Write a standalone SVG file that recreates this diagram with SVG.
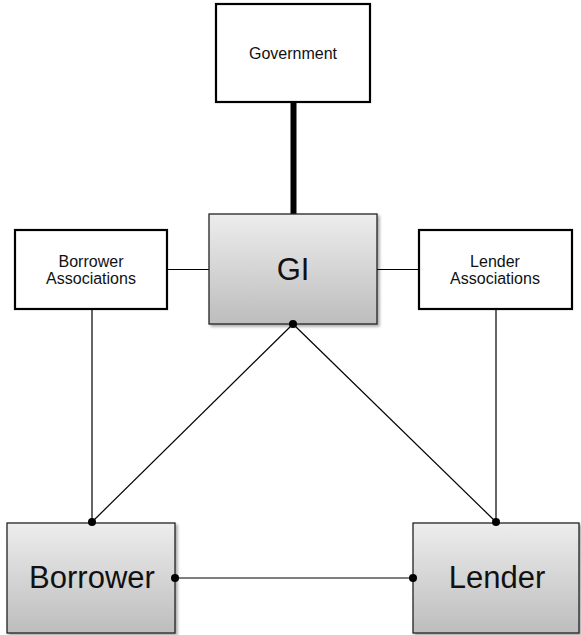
<svg xmlns="http://www.w3.org/2000/svg" width="581" height="635" viewBox="0 0 581 635">
<defs>
<linearGradient id="g" x1="0" y1="0" x2="0" y2="1">
<stop offset="0" stop-color="#ededed"/>
<stop offset="1" stop-color="#bdbdbd"/>
</linearGradient>
<filter id="sh" x="-10%" y="-10%" width="125%" height="125%">
<feGaussianBlur in="SourceAlpha" stdDeviation="1.5"/>
<feOffset dx="2" dy="2" result="b"/>
<feComponentTransfer><feFuncA type="linear" slope="0.35"/></feComponentTransfer>
<feMerge><feMergeNode/><feMergeNode in="SourceGraphic"/></feMerge>
</filter>
</defs>
<style>
.w{fill:#fff;stroke:#000;stroke-width:2.2}
.gr{fill:url(#g);stroke:#222;stroke-width:1.3;filter:url(#sh)}
.t{font-family:"Liberation Sans",Arial,sans-serif;fill:#111;text-anchor:middle}
.s{font-size:16px}
.b{font-size:31px}
.c{stroke:#000;stroke-width:1.2;fill:none}
</style>
<rect width="581" height="635" fill="#fff"/>
<g id="connectors">
<line x1="293.5" y1="102" x2="293.5" y2="214" stroke="#000" stroke-width="6"/>
<line class="c" x1="167" y1="269.5" x2="209" y2="269.5"/>
<line class="c" x1="377" y1="269.5" x2="419" y2="269.5"/>
<line class="c" x1="92" y1="309" x2="92" y2="522"/>
<line class="c" x1="496" y1="309" x2="496" y2="522"/>
<line class="c" x1="293" y1="324" x2="92" y2="522"/>
<line class="c" x1="293" y1="324" x2="496" y2="522"/>
<line class="c" x1="175" y1="578" x2="413" y2="578"/>
</g>
<g id="government">
<rect class="w" x="216" y="4" width="154" height="98"/>
<text class="t s" x="293" y="59">Government</text>
</g>
<g id="borrower-associations">
<rect class="w" x="15" y="230" width="152" height="79"/>
<text class="t s" x="91" y="267">Borrower</text>
<text class="t s" x="91" y="284">Associations</text>
</g>
<g id="lender-associations">
<rect class="w" x="419" y="230" width="153" height="79"/>
<text class="t s" x="495" y="267">Lender</text>
<text class="t s" x="495" y="284">Associations</text>
</g>
<g id="gi">
<rect class="gr" x="209" y="214" width="168" height="110"/>
<text class="t b" x="293" y="280">GI</text>
</g>
<g id="borrower">
<rect class="gr" x="7" y="523" width="168" height="110"/>
<text class="t b" x="92" y="588">Borrower</text>
</g>
<g id="lender">
<rect class="gr" x="413" y="523" width="166" height="110"/>
<text class="t b" x="497" y="588">Lender</text>
</g>
<g id="dots" fill="#000">
<circle cx="293" cy="324" r="4"/>
<circle cx="92" cy="522" r="4"/>
<circle cx="496" cy="522" r="4"/>
<circle cx="175" cy="578" r="4"/>
<circle cx="413" cy="578" r="4"/>
</g>
</svg>
